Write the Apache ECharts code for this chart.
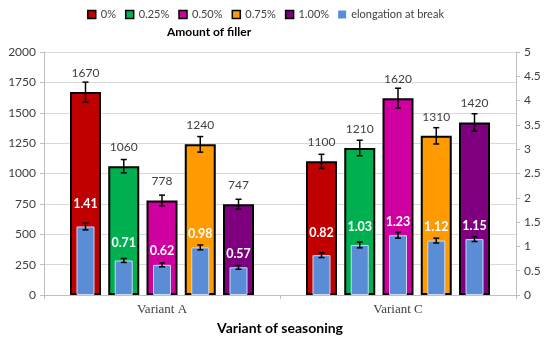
<!DOCTYPE html>
<html>
<head>
<meta charset="utf-8">
<script src="https://cdn.jsdelivr.net/npm/echarts@6/dist/echarts.min.js"></script>
<style>html,body{margin:0;padding:0;background:#fff}#c{width:550px;height:340px}</style>
</head>
<body>
<div id="c"></div>
<script>
// ---- data ----
const categories = ['Variant A', 'Variant C'];
const fillerLevels = ['0%', '0.25%', '0.50%', '0.75%', '1.00%'];
const elongationName = 'elongation at break';
const strengthA = [1670, 1060, 778, 1240, 747];
const strengthC = [1100, 1210, 1620, 1310, 1420];
const strengthErrA = [82, 55, 44, 64, 41];
const strengthErrC = [58, 64, 82, 67, 72];
const elongationA = [1.41, 0.71, 0.62, 0.98, 0.57];
const elongationC = [0.82, 1.03, 1.23, 1.12, 1.15];
const elongationErrA = [0.07, 0.04, 0.04, 0.05, 0.04];
const elongationErrC = [0.05, 0.06, 0.06, 0.05, 0.05];
const leftTicks = {min: 0, max: 2000, interval: 250};
const rightTicks = {min: 0, max: 5, interval: 0.5};

// ---- style ----
const colors = ['#C00000', '#00B050', '#D000A0', '#FF9B00', '#7F007F'];
const blue = '#5A8DD6';
const mainW = 31, mainGap = 0.234;
const spacing = mainW * (1 + mainGap);
const blueW = 18, blueGap = (spacing - blueW) / blueW;
const blueLabelDist = [16, 11, 7, 7, 7];
const font = 'Lato, Calibri, "Open Sans", sans-serif';

function errRender(params, api) {
  const cat = api.value(0), v = api.value(1), e = api.value(2), k = api.value(3);
  const x = api.coord([cat, v])[0] + (k - 2) * spacing;
  const hi = api.coord([cat, v + e])[1];
  const lo = api.coord([cat, v - e])[1];
  const cap = 3;
  const st = {stroke: '#000', lineWidth: 1.5};
  return {type: 'group', children: [
    {type: 'line', shape: {x1: x, y1: hi, x2: x, y2: lo}, style: st},
    {type: 'line', shape: {x1: x - cap, y1: hi, x2: x + cap, y2: hi}, style: st},
    {type: 'line', shape: {x1: x - cap, y1: lo, x2: x + cap, y2: lo}, style: st}
  ]};
}

const series = [];
fillerLevels.forEach((name, i) => {
  series.push({
    name: name, type: 'bar', xAxisIndex: 0, yAxisIndex: 0,
    barWidth: mainW, barGap: (mainGap * 100) + '%',
    data: [strengthA[i], strengthC[i]],
    itemStyle: {color: colors[i], borderColor: '#000', borderWidth: 2},
    label: {show: true, position: 'top', distance: 13, color: '#404040', fontSize: 12, fontFamily: font},
    z: 2
  });
});
fillerLevels.forEach((name, i) => {
  series.push({
    name: elongationName, type: 'bar', xAxisIndex: 1, yAxisIndex: 1,
    barWidth: blueW, barGap: (blueGap * 100) + '%',
    data: [elongationA[i], elongationC[i]],
    itemStyle: {color: blue, borderColor: '#C9DAF2', borderWidth: 1},
    label: {show: true, position: 'top', distance: blueLabelDist[i], color: '#fff', fontSize: 12.5, fontWeight: 'bold', fontFamily: font},
    z: 3
  });
});
const errMain = [], errBlue = [];
fillerLevels.forEach((n, i) => {
  errMain.push([0, strengthA[i], strengthErrA[i], i]);
  errMain.push([1, strengthC[i], strengthErrC[i], i]);
  errBlue.push([0, elongationA[i], elongationErrA[i], i]);
  errBlue.push([1, elongationC[i], elongationErrC[i], i]);
});
series.push({type: 'custom', xAxisIndex: 0, yAxisIndex: 0, renderItem: errRender, data: errMain, z: 5, silent: true});
series.push({type: 'custom', xAxisIndex: 1, yAxisIndex: 1, renderItem: errRender, data: errBlue, z: 6, silent: true});

const legendData = fillerLevels.map((n, i) => ({name: n, icon: 'rect',
  itemStyle: {color: colors[i], borderColor: '#000', borderWidth: 1.5}}));
legendData.push({name: elongationName, icon: 'rect', itemStyle: {color: blue, borderWidth: 0}});

const axisGray = '#BFBFBF';
const chart = echarts.init(document.getElementById('c'), null, {renderer: 'canvas'});
chart.setOption({
  animation: false,
  backgroundColor: '#fff',
  grid: {left: 44, right: 34, top: 52, bottom: 44},
  legend: {data: legendData, top: 4, left: 82, itemWidth: 8, itemHeight: 8, itemGap: 9,
    textStyle: {color: '#404040', fontSize: 11, fontFamily: font}},
  graphic: [{type: 'text', left: 167, top: 26,
    style: {text: 'Amount of filler', fontSize: 12, fontWeight: 'bold', fontFamily: font, fill: '#000'}}],
  xAxis: [
    {type: 'category', data: categories,
      axisLine: {lineStyle: {color: axisGray}}, axisTick: {show: true, length: 4, lineStyle: {color: axisGray}},
      axisLabel: {fontFamily: '"Liberation Serif", "Times New Roman", serif', fontSize: 13, color: '#404040', margin: 8},
      name: 'Variant of seasoning', nameLocation: 'middle', nameGap: 26,
      nameTextStyle: {fontFamily: font, fontWeight: 'bold', fontSize: 14, color: '#000'}},
    {type: 'category', data: categories, show: false}
  ],
  yAxis: [
    {type: 'value', min: leftTicks.min, max: leftTicks.max, interval: leftTicks.interval,
      axisLine: {show: true, lineStyle: {color: axisGray}}, axisTick: {show: true, length: 4, lineStyle: {color: axisGray}},
      splitLine: {lineStyle: {color: '#D9D9D9', width: 1}},
      axisLabel: {color: '#404040', fontSize: 12, fontFamily: font, margin: 8, formatter: v => String(v)}},
    {type: 'value', min: rightTicks.min, max: rightTicks.max, interval: rightTicks.interval, position: 'right',
      axisLine: {show: true, lineStyle: {color: axisGray}}, axisTick: {show: true, length: 4, lineStyle: {color: axisGray}},
      splitLine: {show: false},
      axisLabel: {color: '#404040', fontSize: 12, fontFamily: font, margin: 8, formatter: v => String(v)}}
  ],
  series: series
});
</script>
</body>
</html>
